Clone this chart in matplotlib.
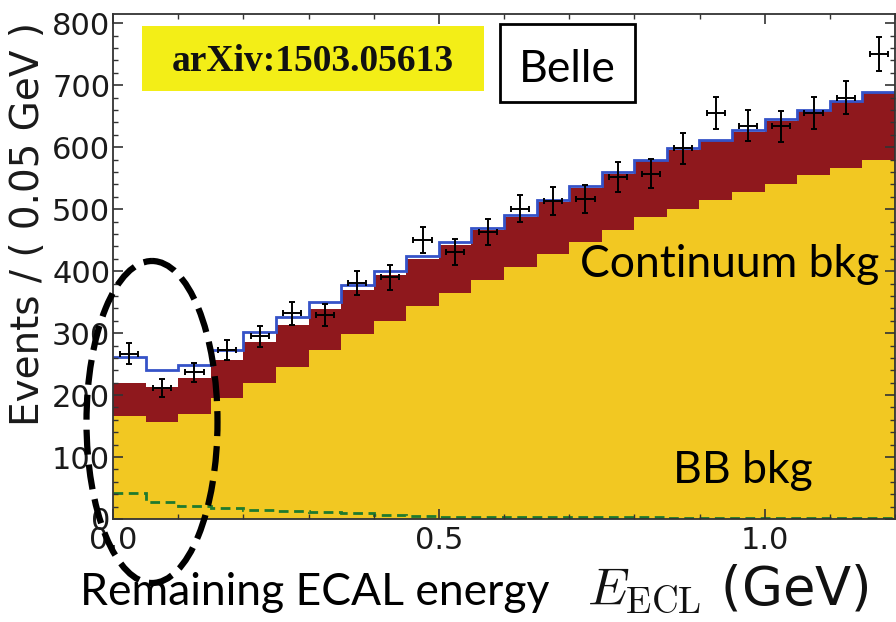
import numpy as np
import matplotlib
matplotlib.use("Agg")
import matplotlib.pyplot as plt
import matplotlib.patches as patches
import matplotlib.transforms as mtransforms

# bin edges: 0.05 GeV bins from 0 to 1.2 GeV
edges = np.linspace(0.0, 1.2, 25)

# stacked components (events / 0.05 GeV)
bb_bkg = [166, 157, 169, 195, 219, 246, 273, 298, 320, 344, 365, 385,
          407, 427, 447, 467, 488, 501, 515, 528, 541, 555, 566, 579]
cont_bkg = [54, 56, 59, 61, 67, 67, 66, 71, 74, 75, 78, 81,
            80, 85, 87, 90, 89, 95, 95, 97, 102, 103, 107, 108]
signal = [42, 27, 21, 17, 15, 13, 11, 9, 7, 5, 4, 4,
          4, 3, 3, 3, 3, 2, 2, 2, 2, 2, 2, 2]
data = [267, 211, 237, 273, 295, 332, 329, 381, 390, 450, 431, 463,
        501, 513, 517, 552, 557, 598, 655, 635, 634, 655, 680, 750]

bb_bkg = np.array(bb_bkg)
cont_top = bb_bkg + np.array(cont_bkg)
total = cont_top + np.array(signal)
centers = 0.5 * (edges[:-1] + edges[1:])
data = np.array(data)

plt.rcParams['mathtext.fontset'] = 'cm'

W, H = 896, 622
fig = plt.figure(figsize=(W / 100, H / 100), dpi=100)
ax = fig.add_axes([113 / W, 103 / H, 782 / W, 505 / H])

# pixel transform (x from left, y from top) for overlay annotations
pxt = mtransforms.Affine2D().scale(1 / W, -1 / H).translate(0, 1) + fig.transFigure

yellow = '#f2c822'
red = '#8f181d'
blue = '#3553c8'
green = '#1f7a2e'

ax.stairs(bb_bkg, edges, baseline=0, fill=True, color=yellow, lw=0)
ax.stairs(cont_top, edges, baseline=bb_bkg, fill=True, color=red, lw=0)
ax.stairs(total, edges, baseline=None, color=blue, lw=2)
ax.stairs(signal, edges, baseline=None, color=green, lw=2, ls=(0, (3.5, 2)))

ax.errorbar(centers, data, yerr=np.sqrt(data), xerr=0.014, fmt='none',
            ecolor='black', elinewidth=1.4, capsize=2.5, capthick=1.4, zorder=5)

ax.set_xlim(0, 1.2)
ax.set_ylim(0, 815)
ax.set_xticks([0.0, 0.5, 1.0])
ax.set_xticks(np.arange(0, 1.21, 0.1), minor=True)
ax.set_yticks(np.arange(0, 801, 100))
ax.set_yticks(np.arange(0, 801, 20), minor=True)
ax.tick_params(which='both', direction='in', top=True, right=True,
               color='#333333', labelsize=22, labelcolor='#1a1a1a')
ax.tick_params(which='major', length=7, width=1.2)
ax.tick_params(which='minor', length=3.5, width=1.0)
ax.tick_params(axis='y', pad=2)
ax.tick_params(axis='x', pad=5)
for s in ax.spines.values():
    s.set_color('#333333')
    s.set_linewidth(1.3)

ax.set_ylabel('Events / ( 0.05 GeV )', fontsize=28, color='#1a1a1a')
ax.yaxis.set_label_coords(-0.085, 0.585)
ax.set_xlabel(r'$E_{\rm ECL}$ (GeV)', fontsize=38, color='#111111')
ax.xaxis.set_label_coords(0.786, -0.086)

# arXiv label
fig.add_artist(patches.Rectangle((142, 26), 342, 65, transform=pxt,
                                 facecolor='#f3ee17', edgecolor='none'))
fig.text(313, 71, 'arXiv:1503.05613', transform=pxt, ha='center', va='baseline',
         family='Liberation Serif', weight='bold', fontsize=27, color='#111111')

# Belle box
fig.add_artist(patches.Rectangle((500, 24), 135, 78, transform=pxt,
                                 facecolor='white', edgecolor='black', lw=2))
fig.text(567, 82, 'Belle', transform=pxt, ha='center', va='baseline',
         family='Lato', fontsize=32, color='black')

fig.text(580, 277, 'Continuum bkg', transform=pxt, ha='left', va='baseline',
         family='Lato', fontsize=32, color='black')
fig.text(673, 483, 'BB bkg', transform=pxt, ha='left', va='baseline',
         family='Lato', fontsize=32, color='black')
fig.text(80, 605, 'Remaining ECAL energy', transform=pxt, ha='left', va='baseline',
         family='Lato', fontsize=32, color='black')

# dashed ellipse around the low-energy region
fig.add_artist(patches.Ellipse((152, 422), 131, 322, transform=pxt, fill=False,
                               edgecolor='black', lw=4.5, ls=(0, (4, 1.6)),
                               zorder=10))

fig.savefig('out.png', dpi=100)
